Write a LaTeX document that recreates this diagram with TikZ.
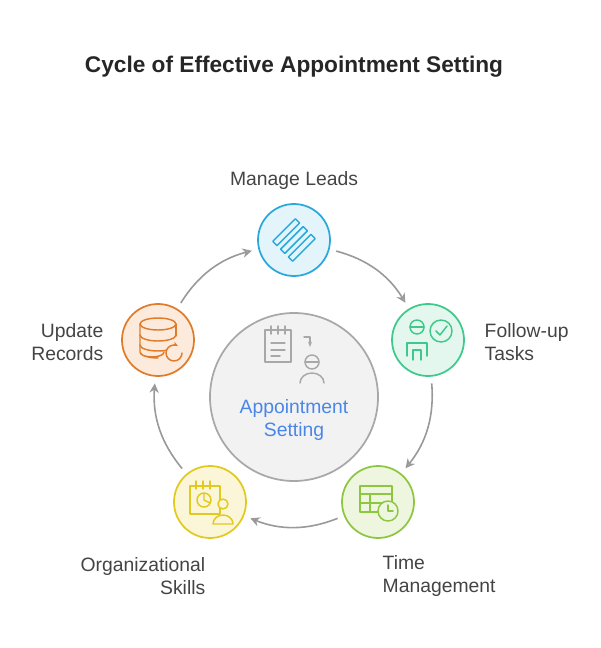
\documentclass[tikz,border=0pt]{standalone}
\usepackage{fontspec}
\setmainfont{Liberation Sans}
\usetikzlibrary{arrows.meta}
\definecolor{bluS}{HTML}{2AA8DC}\definecolor{bluF}{HTML}{E3F4FB}
\definecolor{grnS}{HTML}{3DC98A}\definecolor{grnF}{HTML}{E4F7EE}
\definecolor{limS}{HTML}{8DC63F}\definecolor{limF}{HTML}{EEF6E0}
\definecolor{yelS}{HTML}{E2C91E}\definecolor{yelF}{HTML}{FBF6D8}
\definecolor{orgS}{HTML}{E07B2A}\definecolor{orgF}{HTML}{FCEBDD}
\definecolor{ctrS}{HTML}{A8A8A8}\definecolor{ctrF}{HTML}{F2F2F2}
\definecolor{ctrT}{HTML}{4A86E8}\definecolor{txt}{HTML}{444444}
\tikzset{
  stage/.style={circle,draw=#1S,fill=#1F,line width=1.3pt,minimum size=54pt},
  label/.style={text=txt,font=\fontsize{14.5pt}{17.5pt}\selectfont,align=#1},
  flow/.style={draw=gray!80,line width=1.2pt,-{Stealth[length=7pt,width=7pt,open]},shorten >=5pt,shorten <=5pt},
  ico/.style={line width=1.1pt,line cap=round,line join=round}
}
\begin{document}
\begin{tikzpicture}[x=0.75pt,y=-0.75pt]
  \useasboundingbox (0,0) rectangle (600,648);
  \node[text=black!85,font=\bfseries\fontsize{17pt}{20pt}\selectfont] (title) at (294,67) {Cycle of Effective Appointment Setting};
  % center
  \node[circle,draw=ctrS,fill=ctrF,line width=1.3pt,minimum size=126pt] (ctr) at (294,397) {};
  \node[text=ctrT,font=\fontsize{14.5pt}{17.5pt}\selectfont,align=center] (ctrtxt) at (294,420) {Appointment\\Setting};
  \begin{scope}[ico,draw=ctrS]
    \draw (265,330) rectangle (291,362);
    \draw (271,326) -- (271,334) (278,326) -- (278,334) (285,326) -- (285,334);
    \draw (271,343) -- (285,343) (271,350) -- (285,350) (271,356) -- (280,356);
    \draw[-{Stealth[length=4pt,open]}] (304,337) -- (310,337) -- (310,347);
    \draw (312,362) circle (7);
    \draw (305,362) -- (319,362);
    \draw (300,383) arc (180:360:12 and 10);
  \end{scope}
  % stages
  \node[stage=blu] (leads) at (294,240) {};
  \node[stage=grn] (follow) at (428,340) {};
  \node[stage=lim] (time) at (378,502) {};
  \node[stage=yel] (orgsk) at (210,502) {};
  \node[stage=org] (records) at (158,340) {};
  % labels
  \node[label=center] (leadsL) at (294,181) {Manage Leads};
  \node[label=left,anchor=west] (followL) at (480,342) {Follow-up\\Tasks};
  \node[label=left,anchor=west] (timeL) at (378,576) {Time\\Management};
  \node[label=right,anchor=east] (orgskL) at (210,576) {Organizational\\Skills};
  \node[label=right,anchor=east] (recordsL) at (108,342) {Update\\Records};
  % icons
  \begin{scope}[ico,draw=bluS]
    \draw[rotate around={45:(294,240)}] (278,226) rectangle (310,232) (278,237) rectangle (310,243) (278,248) rectangle (310,254);
  \end{scope}
  \begin{scope}[ico,draw=grnS]
    \draw (417,327) circle (7) (441,331) circle (11);
    \draw (436,331) -- (440,335) -- (447,326);
    \draw (410,327) -- (424,327);
    \draw (407,356) -- (407,343) -- (427,343) -- (427,356);
    \draw (413,360) -- (413,350) -- (421,350) -- (421,360);
  \end{scope}
  \begin{scope}[ico,draw=limS]
    \draw (360,486) rectangle (392,512);
    \draw (360,494) -- (392,494) (370,494) -- (370,512) (360,503) -- (384,503);
    \draw[fill=limF] (388,511) circle (10);
    \draw (388,505) -- (388,511) -- (393,511);
  \end{scope}
  \begin{scope}[ico,draw=yelS]
    \draw (190,486) rectangle (220,514);
    \draw (196,481) -- (196,489) (203,481) -- (203,489) (210,481) -- (210,489);
    \draw (204,500) circle (7) (204,500) -- (204,493) (204,500) -- (210,503);
    \draw[fill=yelF] (223,504) circle (5);
    \draw[fill=yelF] (213,524) arc (180:360:10 and 9) -- cycle;
  \end{scope}
  \begin{scope}[ico,draw=orgS]
    \draw (140,324) -- (140,352) arc (180:90:18 and 6) (140,352) arc (180:0:12 and 5);
    \draw (158,324) ellipse (18 and 6);
    \draw (140,335) arc (180:0:18 and 6) (140,345) arc (180:30:18 and 6);
    \draw (176,324) -- (176,336);
    \draw[fill=orgF,-{Stealth[length=4pt]}] (182,353) arc (0:300:8);
  \end{scope}
  % cycle arrows
  \draw[flow] (leads) to[bend left=22] (follow);
  \draw[flow] (follow) to[bend left=22] (time);
  \draw[flow] (time) to[bend left=22] (orgsk);
  \draw[flow] (orgsk) to[bend left=22] (records);
  \draw[flow] (records) to[bend left=22] (leads);
\end{tikzpicture}
\end{document}
